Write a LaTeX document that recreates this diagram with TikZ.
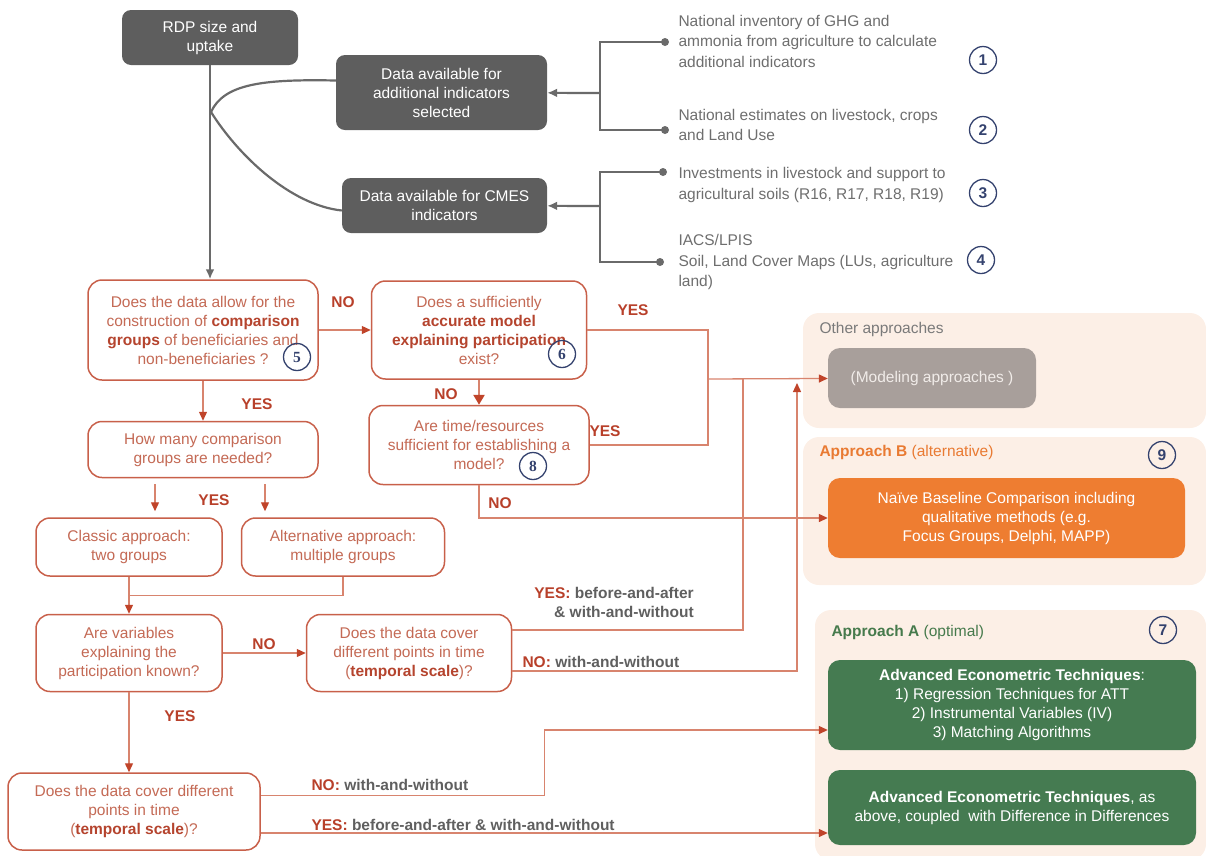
\documentclass[tikz,border=0pt]{standalone}
\usepackage{fontspec}
\setmainfont{Liberation Sans}
\newfontfamily\serifnum{Liberation Serif}
\usepackage{tikz}
\usetikzlibrary{shapes,arrows.meta,positioning,calc}

\definecolor{rdpgrey}{HTML}{5E5E5E}
\definecolor{lgrey}{HTML}{6A6A6A}
\definecolor{infogrey}{HTML}{6E6E6E}
\definecolor{navy}{HTML}{34426E}
\definecolor{qborder}{HTML}{C8604A}
\definecolor{qtext}{HTML}{C46A55}
\definecolor{qbold}{HTML}{B5442E}
\definecolor{lred}{HTML}{D8846E}
\definecolor{arrred}{HTML}{C0442A}
\definecolor{ynred}{HTML}{B8402A}
\definecolor{wgrey}{HTML}{5F5F5F}
\definecolor{peach}{HTML}{FCEFE6}
\definecolor{modelgrey}{HTML}{A89F9B}
\definecolor{modeltext}{HTML}{F1ECE9}
\definecolor{naiveorange}{HTML}{EE7D31}
\definecolor{appgreen}{HTML}{457B51}
\definecolor{labgreen}{HTML}{467A4C}
\definecolor{laborange}{HTML}{E97A32}
\definecolor{othgrey}{HTML}{7A7A7A}

\newcommand{\boxfont}{\fontsize{15.5}{19}\selectfont}
\newcommand{\qb}[1]{\textbf{\color{qbold}#1}}
\newcommand{\ynr}[1]{\textcolor{ynred}{#1}}

\tikzstyle{darkbox} = [draw=none, fill=rdpgrey, text=white, rounded corners=9pt, align=center, font=\boxfont]
\tikzstyle{qbox} = [draw=qborder, line width=1.5pt, fill=white, text=qtext, rounded corners=14pt, align=center, font=\boxfont]
\tikzstyle{info} = [anchor=west, text=infogrey, align=left, font=\fontsize{15.5}{20.5}\selectfont]
\tikzstyle{numc} = [circle, draw=navy, line width=1.3pt, text=navy, inner sep=0pt, minimum size=27pt, font=\bfseries\boxfont]
\tikzstyle{snumc} = [numc, font=\serifnum\bfseries\boxfont]
\tikzstyle{dot} = [circle, fill=lgrey, inner sep=0pt, minimum size=8pt]
\tikzstyle{gline} = [draw=lgrey, line width=2.2pt]
\tikzstyle{gedge} = [gline, -{Latex[length=10pt,width=9pt]}]
\tikzstyle{rline} = [draw=lred, line width=1.3pt]
\tikzstyle{redge} = [rline, -{Triangle[length=9pt,width=8pt,color=arrred]}]
\tikzstyle{yn} = [text=ynred, font=\bfseries\boxfont]
\tikzstyle{ynlong} = [text=wgrey, font=\bfseries\boxfont, align=right]
\tikzstyle{panel} = [fill=peach, rounded corners=16pt]
\tikzstyle{resbox} = [text=white, rounded corners=12pt, align=center, font=\boxfont]

\begin{document}
\begin{tikzpicture}[x=1pt,y=-1pt]
\useasboundingbox (0,0) rectangle (1206,855);

\node[panel, minimum width=403pt, minimum height=115pt] (pother) at (1004.5,370.5) {};
\node[panel, minimum width=403pt, minimum height=148pt] (papprb) at (1004.5,511) {};
\node[panel, minimum width=391pt, minimum height=250pt] (pappra) at (1010.5,735) {};

\node[anchor=west, text=othgrey, font=\boxfont] (othlab) at (816,329) {Other approaches};
\node[anchor=west, text=laborange, font=\boxfont] (blab) at (816,452) {\textbf{Approach B} (alternative)};
\node[numc] (n9) at (1162,455) {9};
\node[anchor=west, text=labgreen, font=\boxfont] (alab) at (828,632) {\textbf{Approach A} (optimal)};
\node[numc] (n7) at (1163,630) {7};

\node[resbox, fill=modelgrey, text=modeltext, minimum width=208pt, minimum height=60pt] (model) at (932,378) {(Modeling approaches )};
\node[resbox, fill=naiveorange, minimum width=357pt, minimum height=80pt] (naive) at (1006.5,518) {Naïve Baseline Comparison including\\qualitative methods (e.g.\\Focus Groups, Delphi, MAPP)};
\node[resbox, fill=appgreen, minimum width=368pt, minimum height=90pt] (adv1) at (1012,705) {\textbf{Advanced Econometric Techniques}:\\1) Regression Techniques for ATT\\2) Instrumental Variables (IV)\\3) Matching Algorithms};
\node[resbox, fill=appgreen, minimum width=368pt, minimum height=75pt] (adv2) at (1012,807.5) {\textbf{Advanced Econometric Techniques}, as\\above, coupled\ \ with Difference in Differences};

\node[darkbox, minimum width=176pt, minimum height=55pt] (rdp) at (210,37.5) {RDP size and\\uptake};
\node[darkbox, minimum width=211pt, minimum height=75pt] (addl) at (441.5,92.5) {Data available for\\additional indicators\\selected};
\node[darkbox, minimum width=205pt, minimum height=55pt] (cmes) at (444.5,205.5) {Data available for CMES\\indicators};

\node[info] (t1) at (675,41) {National inventory of GHG and\\ammonia from agriculture to calculate\\additional indicators};
\node[info] (t2) at (675,125) {National estimates on livestock, crops\\and Land Use};
\node[info] (t3) at (675,185) {Investments in livestock and support to\\agricultural soils (R16, R17, R18, R19)};
\node[info] (t4) at (675,262) {IACS/LPIS\\Soil, Land Cover Maps (LUs, agriculture\\land)};
\node[numc] (n1) at (983,60) {1};
\node[numc] (n2) at (983,130) {2};
\node[numc] (n3) at (983,193) {3};
\node[numc] (n4) at (981,260) {4};
\node[dot] (d1) at (665,42) {};
\node[dot] (d2) at (665,130) {};
\node[dot] (d3) at (663,172) {};
\node[dot] (d4) at (660,262) {};
\coordinate (b1) at (600,93);
\coordinate (b2) at (600,206);
\coordinate (split) at (211,112);

\node[qbox, minimum width=230pt, minimum height=100pt] (q5) at (203,330) {Does the data allow for the\\construction of \qb{comparison}\\\qb{groups} of beneficiaries and\\non-beneficiaries ?};
\node[snumc] (n5) at (297,357) {5};
\node[qbox, minimum width=215pt, minimum height=98pt, right=52pt of q5] (q6) {Does a sufficiently\\\qb{accurate model}\\\qb{explaining participation}\\exist?};
\node[snumc] (n6) at (562,354) {6};
\node[qbox, minimum width=220pt, minimum height=79pt, below=25pt of q6] (q8) {Are time/resources\\sufficient for establishing a\\model?};
\node[snumc] (n8) at (533,466) {8};
\node[qbox, minimum width=230pt, minimum height=56pt, below=40pt of q5] (howmany) {How many comparison\\groups are needed?};
\node[qbox, minimum width=186pt, minimum height=58pt] (classic) at (129,547) {Classic approach:\\two groups};
\node[qbox, minimum width=203pt, minimum height=58pt, right=18pt of classic] (altern) {Alternative approach:\\multiple groups};
\node[qbox, minimum width=186pt, minimum height=77pt, below=37pt of classic] (arevar) {Are variables\\explaining the\\participation known?};
\node[qbox, minimum width=205pt, minimum height=77pt, right=83pt of arevar] (temp1) {Does the data cover\\different points in time\\(\qb{temporal scale})?};
\node[qbox, minimum width=252pt, minimum height=77pt] (temp2) at (134,811.5) {Does the data cover different\\points in time\\(\qb{temporal scale})?};

\node[yn] (no1) at (343,302) {NO};
\node[yn] (yes1) at (257,404) {YES};
\node[yn] (no2) at (446,394) {NO};
\node[yn] (yes2) at (633,310) {YES};
\node[yn] (yes3) at (605,431) {YES};
\node[yn] (no3) at (500,503) {NO};
\node[yn] (yes4) at (214,500) {YES};
\node[yn] (no4) at (264,644) {NO};
\node[yn] (yes5) at (180,716) {YES};
\node[ynlong] (yesba1) at (614,602) {\ynr{YES:} before-and-after\\\& with-and-without};
\node[ynlong, anchor=west] (nowo1) at (519,662) {\ynr{NO:} with-and-without};
\node[ynlong, anchor=west] (nowo2) at (308,785) {\ynr{NO:} with-and-without};
\node[ynlong, anchor=west] (yesba2) at (308,825) {\ynr{YES:} before-and-after \& with-and-without};

\draw[gedge] (rdp.south) -- (rdp.south |- q5.north);
\draw[gline] (split) .. controls (224,84) and (262,79) .. ([yshift=12pt]addl.west);
\draw[gline] (split) .. controls (238,155) and (290,205) .. ([yshift=-5pt]cmes.west);
\draw[gline] (d1.center) -- (d1 -| b1) -- (d2 -| b1) -- (d2.center);
\draw[gline] (d3.center) -- (d3 -| b2) -- (d4 -| b2) -- (d4.center);
\draw[gedge] (b1) -- (addl);
\draw[gedge] (b2) -- (cmes);

\draw[redge] (q5) -- (q6);
\draw[redge, line width=2.6pt, -{Triangle[length=10pt,width=11pt,color=arrred]}] (q6) -- (q8);
\coordinate (mj) at (708,379);
\draw[rline] (q6.east) -| (mj);
\draw[rline] (q8.east) -| (mj);
\draw[redge] (mj) -- (model);
\draw[redge] (q8.south) |- (naive.west);
\draw[redge] (q5) -- (howmany);
\draw[redge] ($(howmany.south)+(-48,6)$) -- ($(howmany.south |- classic.north)+(-48,-6)$);
\draw[redge] ($(howmany.south)+(62,6)$) -- ($(howmany.south |- classic.north)+(62,-6)$);
\draw[redge] (classic) -- (arevar);
\draw[rline] (altern.south) |- ($(classic.south)!0.5!(arevar.north)$);
\draw[redge] (arevar) -- (temp1);
\draw[redge] (arevar.south) -- (arevar.south |- temp2.north);
\draw[rline] ([yshift=23pt]temp1.east) -| ($(mj)+(35,0)$);
\draw[redge] ([yshift=-18pt]temp1.east) -| ($(mj)+(89,4)$);
\draw[redge] ([yshift=16pt]temp2.east) -| ($(adv1.west)+(-283,25)$) -- ([yshift=-25pt]adv1.west);
\coordinate (yesA) at ($(temp2.east)+(0,21.5)$);
\draw[redge] (yesA) -- (yesA -| adv2.west);

\end{tikzpicture}
\end{document}
